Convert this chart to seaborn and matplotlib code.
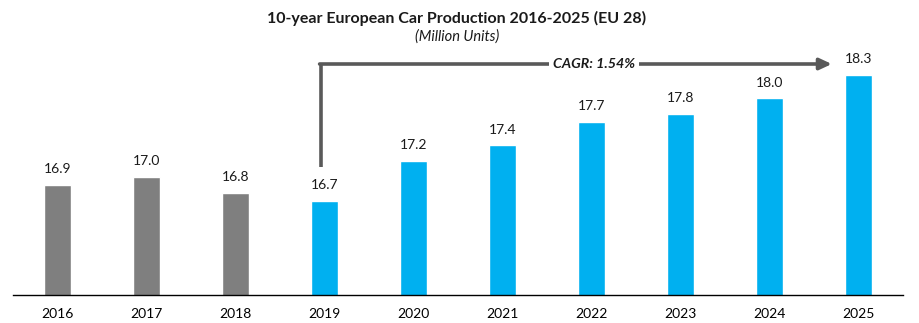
import matplotlib
matplotlib.use("Agg")
import matplotlib.pyplot as plt
import seaborn as sns
import pandas as pd

years = ["2016", "2017", "2018", "2019", "2020", "2021", "2022", "2023", "2024", "2025"]
production = [16.9, 17.0, 16.8, 16.7, 17.2, 17.4, 17.7, 17.8, 18.0, 18.3]
bar_colors = ["#7F7F7F"] * 3 + ["#00B0F0"] * 7
title = "10-year European Car Production 2016-2025 (EU 28)"
subtitle = "(Million Units)"
cagr_label = "CAGR: 1.54%"

sns.set_theme(style="white")
plt.rcParams["font.family"] = ["Lato", "DejaVu Sans"]

df = pd.DataFrame({"year": years, "value": production})

fig = plt.figure(figsize=(9.19, 3.23), dpi=100)
ax = fig.add_axes([13 / 919, 1 - 295 / 323, 890 / 919, 255 / 323])
sns.barplot(data=df, x="year", y="value", hue="year", palette=bar_colors,
            legend=False, width=0.31, ax=ax, saturation=1)

ax.set_ylim(15.5, 18.74)
ax.set_xlim(-0.5, 9.5)
for s in ["top", "right", "left"]:
    ax.spines[s].set_visible(False)
ax.spines["bottom"].set_color("black")
ax.spines["bottom"].set_linewidth(1.0)
ax.set_yticks([])
ax.set_xlabel("")
ax.set_ylabel("")
ax.tick_params(axis="x", length=0, pad=9, labelsize=10, colors="black")

for i, v in enumerate(production):
    ax.annotate(f"{v:.1f}", (i, v), xytext=(0, 7), textcoords="offset points",
                ha="center", va="bottom", fontsize=10, color="#1a1a1a")

# CAGR arrow
arrow_color = "#595959"
x0, x1 = 2.96, 8.70
y_low, y_top = 17.13, 18.435
ax.plot([x0, x0], [y_low, y_top], color=arrow_color, lw=2.6, solid_capstyle="butt")
ax.annotate("", xy=(x1, y_top), xytext=(x0 - 0.015, y_top),
            arrowprops=dict(arrowstyle="-|>,head_length=0.6,head_width=0.28",
                            color=arrow_color, lw=2.6, shrinkA=0, shrinkB=0))
ax.text(6.03, y_top, cagr_label, ha="center", va="center", fontsize=10.3,
        fontweight="bold", fontstyle="italic", color="#1a1a1a",
        bbox=dict(facecolor="white", edgecolor="none", pad=3))

fig.text(457 / 919, 1 - 18 / 323, title, ha="center", va="center",
         fontsize=11.5, fontweight="bold", color="#1a1a1a")
fig.text(457 / 919, 1 - 37 / 323, subtitle, ha="center", va="center",
         fontsize=10.5, fontstyle="italic", color="#1a1a1a")

fig.savefig("out.png", dpi=100, facecolor="white")
